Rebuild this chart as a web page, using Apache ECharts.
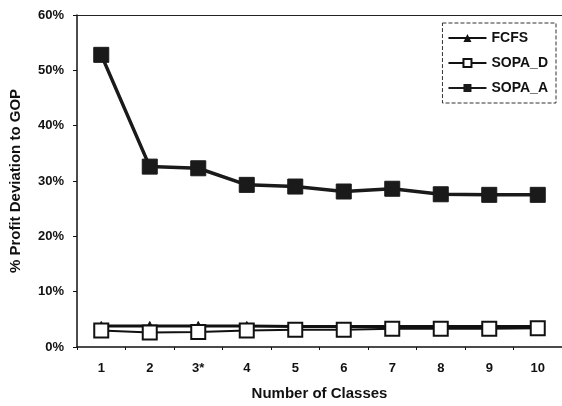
<!DOCTYPE html>
<html><head><meta charset="utf-8">
<script src="https://cdn.jsdelivr.net/npm/echarts@6/dist/echarts.min.js"></script>
<style>html,body{margin:0;padding:0;background:#fff}#c{width:562px;height:406px}</style>
</head><body><div id="c"></div>
<script>
const categories = ['1','2','3*','4','5','6','7','8','9','10'];
const fcfs   = [3.8, 3.8, 3.8, 3.8, 3.7, 3.7, 3.7, 3.7, 3.7, 3.7];
const sopaD  = [3.0, 2.6, 2.7, 3.0, 3.1, 3.1, 3.3, 3.3, 3.3, 3.4];
const sopaA  = [52.8, 32.6, 32.3, 29.3, 29.0, 28.1, 28.6, 27.6, 27.5, 27.5];
const yTicks = [0, 10, 20, 30, 40, 50, 60];

const font = 'Liberation Sans, Arial, sans-serif';
const chart = echarts.init(document.getElementById('c'));
chart.setOption({
  animation: false,
  backgroundColor: '#fff',
  grid: {left: 77, top: 15, width: 486, bottom: 59},
  legend: {
    right: 6, top: 23, orient: 'vertical', itemGap: 11,
    itemWidth: 38, itemHeight: 10,
    borderColor: '#333', borderWidth: 1, borderType: 'dashed',
    padding: [8, 8, 8, 5],
    textStyle: {fontFamily: font, fontWeight: 'bold', fontSize: 14, color: '#111'},
    data: ['FCFS', 'SOPA_D', 'SOPA_A']
  },
  xAxis: [{
    type: 'category', data: categories, boundaryGap: true,
    name: 'Number of Classes', nameLocation: 'middle', nameGap: 39,
    nameTextStyle: {fontFamily: font, fontWeight: 'bold', fontSize: 15, color: '#111'},
    axisLine: {lineStyle: {color: '#111', width: 1.5}},
    axisTick: {show: true, inside: false, length: 3, lineStyle: {color: '#111'}},
    axisLabel: {fontFamily: font, fontWeight: 'bold', fontSize: 13, color: '#111', margin: 15}
  }, {
    type: 'category', data: categories, position: 'top',
    axisLine: {show: true, lineStyle: {color: '#222', width: 1.2}},
    axisTick: {show: false}, axisLabel: {show: false}
  }],
  yAxis: {
    type: 'value', min: 0, max: 60, interval: 10,
    name: '% Profit Deviation to GOP', nameLocation: 'middle', nameGap: 54,
    nameTextStyle: {fontFamily: font, fontWeight: 'bold', fontSize: 15, color: '#111'},
    axisLine: {show: true, lineStyle: {color: '#111', width: 1.5}},
    axisTick: {show: true, length: 4, lineStyle: {color: '#111'}},
    splitLine: {show: false},
    axisLabel: {fontFamily: font, fontWeight: 'bold', fontSize: 13, color: '#111', margin: 13,
      formatter: v => yTicks.includes(v) ? v + '%' : ''}
  },
  series: [
    {name: 'FCFS', type: 'line', data: fcfs, symbol: 'triangle', symbolSize: 9,
     lineStyle: {color: '#111', width: 3}, itemStyle: {color: '#111', borderColor: '#111'}, z: 2},
    {name: 'SOPA_D', type: 'line', data: sopaD, symbol: 'rect', symbolSize: 14,
     lineStyle: {color: '#111', width: 2}, itemStyle: {color: '#fff', borderColor: '#111', borderWidth: 2}, z: 3},
    {name: 'SOPA_A', type: 'line', data: sopaA, symbol: 'rect', symbolSize: 15,
     lineStyle: {color: '#1a1a1a', width: 3.5}, itemStyle: {color: '#1a1a1a', borderColor: '#1a1a1a'}, z: 4}
  ]
});
</script></body></html>
